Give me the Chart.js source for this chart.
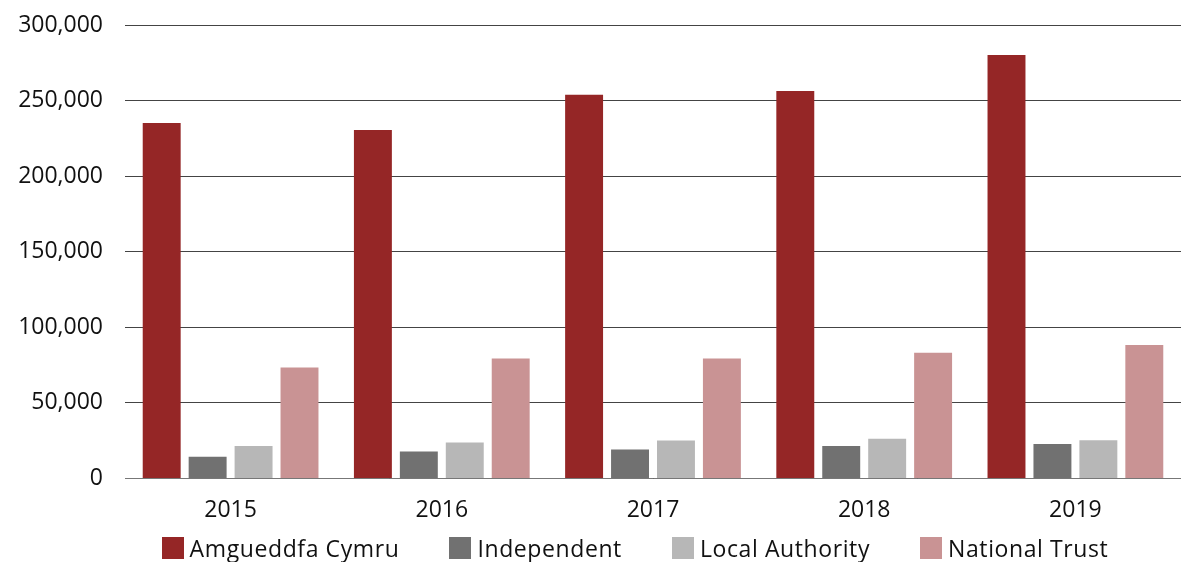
<!DOCTYPE html>
<html>
<head>
<meta charset="utf-8">
<script src="https://cdn.jsdelivr.net/npm/chart.js@4/dist/chart.umd.min.js"></script>
<style>
  html, body { margin: 0; padding: 0; background: #fff; }
  #wrap { width: 1181px; height: 562px; position: relative; }
  #legend {
    position: absolute; left: 0; top: 534px; width: 1270px;
    display: flex; justify-content: center; gap: 50px;
    font-family: "Open Sans", "Noto Sans", sans-serif; font-size: 23px;
    letter-spacing: 0.6px; color: #111; line-height: 28px;
  }
  #legend .item { display: flex; align-items: center; white-space: nowrap; }
  #legend .swatch { width: 22px; height: 22px; margin-right: 6px; }
</style>
</head>
<body>
<div id="wrap">
  <canvas id="visitors"></canvas>
  <div id="legend"></div>
</div>
<script>
var years = ['2015', '2016', '2017', '2018', '2019'];
var amgueddfa = [235200, 230600, 253800, 256400, 280200];
var independent = [14300, 17800, 19100, 21500, 22800];
var localAuthority = [21500, 23700, 25000, 26300, 25300];
var nationalTrust = [73300, 79400, 79400, 83200, 88200];

var fontFamily = '"Open Sans", "Noto Sans", sans-serif';

function series(label, values, colour) {
    return {
        label: label,
        data: values,
        backgroundColor: colour,
        borderWidth: 0,
        categoryPercentage: 0.87,
        barPercentage: 0.826
    };
}

var ctx = document.getElementById('visitors').getContext('2d');
var chart = new Chart(ctx, {
    type: 'bar',
    data: {
        labels: years,
        datasets: [
            series('Amgueddfa Cymru', amgueddfa, '#952626'),
            series('Independent', independent, '#717171'),
            series('Local Authority', localAuthority, '#b7b7b7'),
            series('National Trust', nationalTrust, '#c99394')
        ]
    },
    options: {
        responsive: true,
        maintainAspectRatio: false,
        animation: false,
        layout: { padding: { top: 25, right: 0, bottom: 28, left: 0 } },
        plugins: {
            tooltip: { enabled: false },
            legend: { display: false }
        },
        scales: {
            x: {
                grid: { display: false },
                border: { color: '#777', width: 1 },
                ticks: {
                    color: '#111',
                    padding: 10,
                    font: { family: fontFamily, size: 23 }
                }
            },
            y: {
                min: 0,
                max: 300000,
                afterFit: function(scale) {
                    scale.width = 125;
                    // only half the top label is needed above the chart area
                    scale.paddingTop = 14;
                },
                border: { display: false },
                grid: { color: '#444', lineWidth: 1, drawTicks: false },
                ticks: {
                    stepSize: 50000,
                    padding: 22,
                    color: '#111',
                    font: { family: fontFamily, size: 23 },
                    callback: function(value) { return value.toLocaleString('en-US'); }
                }
            }
        }
    }
});

// legend built from the datasets, laid out under the x axis
var legendEl = document.getElementById('legend');
chart.data.datasets.forEach(function(ds) {
    var item = document.createElement('div');
    item.className = 'item';
    var swatch = document.createElement('span');
    swatch.className = 'swatch';
    swatch.style.background = ds.backgroundColor;
    item.appendChild(swatch);
    item.appendChild(document.createTextNode(ds.label));
    legendEl.appendChild(item);
});
</script>
</body>
</html>
